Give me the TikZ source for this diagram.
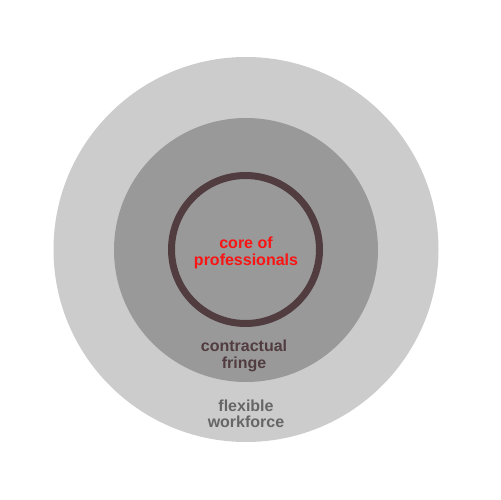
\documentclass[tikz,border=0pt]{standalone}
\usepackage{fontspec}
\setmainfont{Liberation Sans}
\definecolor{outerg}{RGB}{204,204,204}
\definecolor{midg}{RGB}{153,153,153}
\definecolor{ringc}{RGB}{81,60,64}
\definecolor{corered}{RGB}{250,20,20}
\definecolor{fringec}{RGB}{81,60,64}
\definecolor{flexc}{RGB}{102,102,102}
\begin{document}
\begin{tikzpicture}[x=1pt,y=-1pt,
  lbl/.style={align=center,font=\bfseries\fontsize{16}{16.5}\selectfont,inner sep=0pt}]
\useasboundingbox[fill=white] (0,0) rectangle (501,500);
\node[circle,fill=outerg,minimum size=385pt,inner sep=0pt] (outer) at (246,249.5) {};
\node[circle,fill=midg,minimum size=264pt,inner sep=0pt] (middle) at (246,250) {};
\node[circle,draw=ringc,line width=7pt,minimum size=148pt,inner sep=0pt] (core) at (245.5,249.5) {};
\node[lbl,text=corered] (corelbl) at (246,253) {core of\\professionals};
\node[lbl,text=fringec] (fringelbl) at (244,356) {contractual\\fringe};
\node[lbl,text=flexc] (flexlbl) at (246,414) {flexible\\workforce};
\end{tikzpicture}
\end{document}
